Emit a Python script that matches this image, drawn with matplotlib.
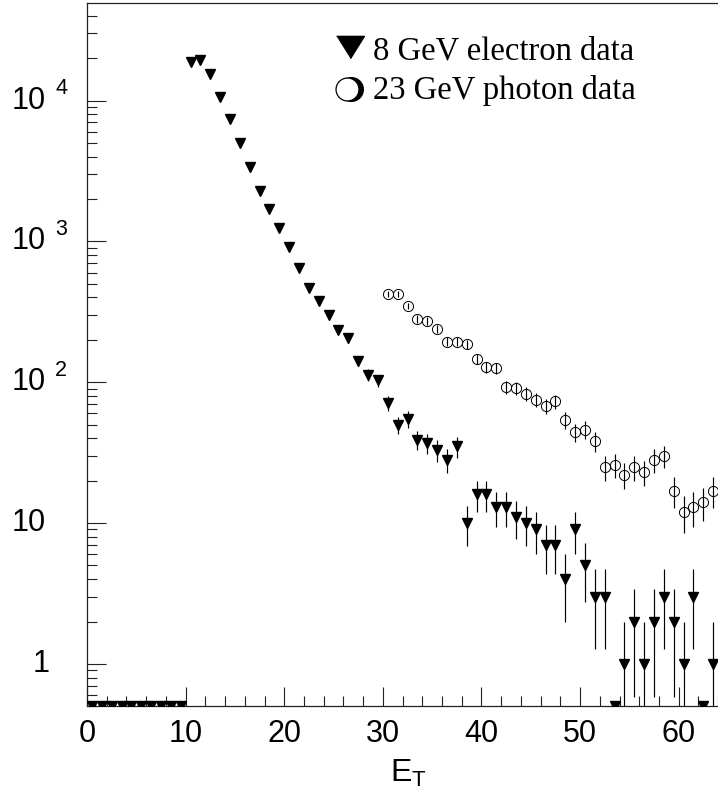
import numpy as np
import matplotlib
matplotlib.use("Agg")
import matplotlib.pyplot as plt
from matplotlib.ticker import LogLocator, MultipleLocator, NullFormatter
from matplotlib.transforms import blended_transform_factory, ScaledTranslation

plt.rcParams["font.family"] = ["Liberation Sans", "DejaVu Sans"]

# 8 GeV electron sample: entries per 1 GeV bin of E_T, bins starting at 0
electron_counts = [
    0, 0, 0, 0, 0, 0, 0, 0, 0, 0,
    18900, 19500, 15300, 10600, 7400, 4960, 3380, 2270, 1690, 1240,
    916, 644, 465, 379, 300, 235, 205, 142, 113, 103,
    71, 50, 55, 39, 37, 33, 28, 35, 10, 16,
    16, 13, 13, 11, 10, 9, 7, 7, 4, 9,
    5, 3, 3, 0, 1, 2, 1, 2, 3, 2,
    1, 3, 0, 1,
]
electron_first_bin = 0.0

# 23 GeV photon sample: entries per 1 GeV bin of E_T, bins starting at 30
photon_counts = [
    421, 421, 349, 281, 273, 239, 194, 194, 186, 146,
    128, 126, 92, 91, 83, 75, 68, 73, 54, 44,
    46, 38, 25, 26, 22, 25, 23, 28, 30, 17,
    12, 13, 14, 17, 12,
]
photon_first_bin = 30.0

x_ticks = [0, 10, 20, 30, 40, 50, 60]
legend_labels = ["8 GeV electron data", "23 GeV photon data"]
x_title = r"$\mathregular{E_T}$"

W, H = 718, 792
fig = plt.figure(figsize=(W / 100, H / 100), dpi=100)
ax = fig.add_axes([87 / W, (H - 706.3) / H, (728 - 87) / W, (706.3 - 3.3) / H])
ax.set_yscale("log", nonpositive="clip")
ax.set_xlim(0, 65)
ax.set_ylim(0.5, 4.9e4)
y_floor = ax.get_ylim()[0]

# electron histogram: Poisson errors, empty bins sit on the floor of the frame
ec = np.asarray(electron_counts, float)
ex = electron_first_bin + np.arange(len(ec)) + 0.5
filled = ec > 0
e_err = np.sqrt(ec[filled])
e_low = np.minimum(e_err, ec[filled] * 0.999)
ax.errorbar(ex[filled], ec[filled], yerr=[e_low, e_err], fmt="v", ms=7,
            color="black", ecolor="black", elinewidth=0.85, capsize=0)
ax.plot(ex[~filled], np.full((~filled).sum(), y_floor), "v", ms=7,
        color="black", clip_on=True, zorder=3)

# photon histogram: open circles with Poisson errors
pc = np.asarray(photon_counts, float)
px = photon_first_bin + np.arange(len(pc)) + 0.5
ax.errorbar(px, pc, yerr=np.sqrt(pc), fmt="o", ms=7.3, mfc="none",
            mec="black", mew=0.7, ecolor="black", elinewidth=0.85, capsize=0)

# axes frame and ticks
for s in ax.spines.values():
    s.set_linewidth(0.9)
    s.set_color("#222222")
ax.xaxis.set_major_locator(MultipleLocator(10))
ax.xaxis.set_minor_locator(MultipleLocator(2))
ax.set_xticks(x_ticks)
ax.set_xticklabels([str(t) for t in x_ticks])
ax.yaxis.set_major_locator(LogLocator(base=10, numticks=12))
ax.yaxis.set_minor_locator(LogLocator(base=10, subs=np.arange(2, 10), numticks=40))
ax.yaxis.set_major_formatter(NullFormatter())
ax.yaxis.set_minor_formatter(NullFormatter())
ax.tick_params(which="major", direction="in", length=13.7, width=0.8,
               color="#222222", top=False, right=False)
ax.tick_params(which="minor", direction="in", length=7.0, width=0.8,
               color="#222222", top=False, right=False)
ax.tick_params(axis="x", labelsize=22, pad=9)

# y tick labels in the 10^n style
ytr = blended_transform_factory(fig.transFigure, ax.transData)
sup_shift = ScaledTranslation(0, 8.5 / 72, fig.dpi_scale_trans)
for dec in [1, 10, 100, 1000, 10000]:
    n = int(round(np.log10(dec)))
    if n == 0:
        ax.text(33 / W, dec, "1", transform=ytr, ha="left", va="center",
                fontsize=22, clip_on=False)
    elif n == 1:
        ax.text(12 / W, dec, "10", transform=ytr, ha="left", va="center",
                fontsize=22, clip_on=False)
    else:
        ax.text(12 / W, dec, "10", transform=ytr, ha="left", va="center",
                fontsize=22, clip_on=False)
        ax.text(55 / W, dec, str(n), transform=ytr + sup_shift, ha="left",
                va="center", fontsize=15.5, clip_on=False)

fig.text(408 / W, 1 - 773 / H, x_title, ha="center", va="center", fontsize=23)

# legend: filled triangle and shadowed open circle
tri = [(-1, 0.8), (1, 0.8), (0, -0.8)]
ax.plot([350 / W], [1 - 46.5 / H], marker=tri, ms=20, color="black",
        transform=fig.transFigure, clip_on=False, linestyle="none")
ax.plot([350.5 / W], [1 - 89 / H], marker="o", ms=17, color="black",
        transform=fig.transFigure, clip_on=False, linestyle="none")
ax.plot([347 / W], [1 - 88.5 / H], marker="o", ms=16.5, mfc="white",
        mec="black", mew=0.9, transform=fig.transFigure, clip_on=False,
        linestyle="none")
fig.text(373 / W, 1 - 60 / H, legend_labels[0], family="Liberation Serif",
         fontsize=23.5, va="baseline", ha="left")
fig.text(373 / W, 1 - 99.5 / H, legend_labels[1], family="Liberation Serif",
         fontsize=23.5, va="baseline", ha="left")

fig.savefig("out.png", dpi=100)
